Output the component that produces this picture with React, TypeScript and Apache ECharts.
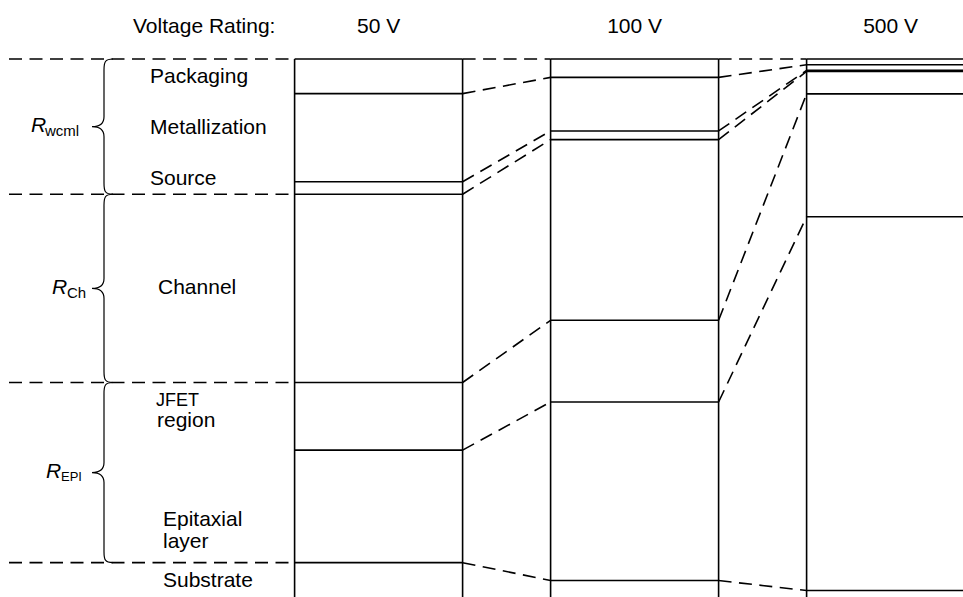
import React, { useEffect, useRef } from "react";
import * as echarts from "echarts";

// ---- data ----
const voltageRatings = ["50 V", "100 V", "500 V"];
const layerNames = ["Packaging", "Metallization", "Source", "Channel", "JFET region", "Epitaxial layer", "Substrate"];
// share of total on-resistance (%) per layer, top to bottom
const share50V = [6.4, 16.3, 2.3, 34.8, 12.5, 20.8, 7.0];
const share100V = [3.4, 9.9, 1.6, 33.4, 15.1, 33.0, 3.6];
const share500V = [1.05, 1.05, 0.2, 4.15, 22.7, 69.1, 1.75];
const groupSubscripts = ["wcml", "Ch", "EPI"];
const groupFirstLayer = [0, 3, 4];
const groupLastLayer = [2, 3, 5];

// ---- layout / style ----
const FONT = "'Liberation Sans', Arial, Helvetica, sans-serif";
const HALF = 84;
const LW = 1.6;
const DASH = [13, 7.5];
const rLabelX = [31, 52, 46];
const subX = [45, 67, 61];
const subSize = [15, 15, 13];

const allShares = [share50V, share100V, share500V];
const cumulative = (arr: number[]) => {
  const out = [0];
  arr.forEach((v) => out.push(out[out.length - 1] + v));
  return out;
};

const seg = (x1: number, y1: number, x2: number, y2: number, dashed: boolean) => ({
  type: "line",
  shape: { x1, y1, x2, y2 },
  style: { stroke: "#000", lineWidth: LW, lineDash: dashed ? DASH : null, fill: null },
});

const bracePath = (a: number, b: number) => {
  const m = (a + b) / 2;
  const xv = 104;
  const xe = 113;
  const xt = 92;
  return (
    `M ${xe} ${a} C ${xv + 1} ${a} ${xv} ${a + 3} ${xv} ${a + 11} ` +
    `L ${xv} ${m - 10} C ${xv} ${m - 4} ${xv - 4} ${m} ${xt} ${m} ` +
    `C ${xv - 4} ${m} ${xv} ${m + 4} ${xv} ${m + 10} ` +
    `L ${xv} ${b - 11} C ${xv} ${b - 3} ${xv + 1} ${b} ${xe} ${b}`
  );
};

const textEl = (text: string, x: number, y: number, size: number, italic = false) => ({
  type: "text",
  x,
  y,
  style: {
    text,
    fill: "#000",
    fontSize: size,
    fontFamily: FONT,
    fontStyle: italic ? "italic" : "normal",
    align: "left",
    verticalAlign: "middle",
  },
});

export default function App() {
  const ref = useRef<HTMLDivElement>(null);
  useEffect(() => {
    if (!ref.current) return;
    const chart = echarts.init(ref.current, undefined, { renderer: "svg" });

    const renderItem = (params: any, api: any) => {
      const i = api.value(0) as number;
      const cum = cumulative(allShares[i]);
      const cx = api.coord([i, 0])[0];
      const left = cx - HALF;
      const right = cx + HALF;
      const yOf = (col: number, v: number) => api.coord([col, v])[1];
      const top = yOf(i, 0);
      const bottom = yOf(i, 100) + 12;
      const children: any[] = [];
      children.push(seg(left, top, left, bottom, false));
      children.push(seg(right, top, right, bottom, false));
      for (let k = 0; k < cum.length - 1; k++) {
        const y = yOf(i, cum[k]);
        children.push(seg(left, y, right, y, false));
      }
      if (i < allShares.length - 1) {
        const nCum = cumulative(allShares[i + 1]);
        const nLeft = api.coord([i + 1, 0])[0] - HALF;
        for (let k = 0; k < cum.length - 1; k++) {
          children.push(seg(right, yOf(i, cum[k]), nLeft, yOf(i + 1, nCum[k]), true));
        }
      }
      if (i === 0) {
        const bounds = [cum[groupFirstLayer[0]]];
        groupLastLayer.forEach((l) => bounds.push(cum[l + 1]));
        bounds.forEach((v) => {
          const y = yOf(0, v);
          children.push(seg(9, y, left, y, true));
        });
        groupSubscripts.forEach((sub, g) => {
          const a = yOf(0, cum[groupFirstLayer[g]]);
          const b = yOf(0, cum[groupLastLayer[g] + 1]);
          const m = (a + b) / 2;
          children.push({
            type: "path",
            shape: { pathData: bracePath(a, b) },
            style: { fill: null, stroke: "#000", lineWidth: 1.2 },
          });
          children.push(textEl("R", rLabelX[g], m - 2, 21, true));
          children.push(textEl(sub, subX[g], m + 4, subSize[g]));
        });
      }
      return { type: "group", children };
    };

    const labelText = (text: string, x: number, y: number, size = 21) => ({
      type: "text",
      left: x,
      top: y - size / 2,
      style: { text, fill: "#000", fontSize: size, fontFamily: FONT },
    });

    chart.setOption({
      animation: false,
      backgroundColor: "#fff",
      grid: { left: 250.6, top: 59, width: 768, height: 541, outerBoundsMode: "none", containLabel: false },
      xAxis: {
        type: "category",
        data: voltageRatings,
        position: "top",
        axisLine: { show: false },
        axisTick: { show: false },
        splitLine: { show: false },
        axisLabel: {
          margin: 33.5,
          verticalAlign: "middle",
          fontSize: 21,
          color: "#000",
          fontFamily: FONT,
        },
      },
      yAxis: { type: "value", min: 0, max: 100, inverse: true, show: false },
      series: [
        {
          type: "custom",
          data: voltageRatings.map((_, i) => [i, 0]),
          renderItem,
          clip: false,
          silent: true,
        },
      ],
      graphic: [
        labelText("Voltage Rating:", 133, 25.7),
        labelText(layerNames[0], 150, 75.7),
        labelText(layerNames[1], 150, 126.3),
        labelText(layerNames[2], 150, 177),
        labelText(layerNames[3], 158, 286.3),
        labelText(layerNames[4].split(" ")[0], 156, 399.5, 18),
        labelText(layerNames[4].split(" ")[1], 157, 419.7),
        labelText(layerNames[5].split(" ")[0], 163, 518.7),
        labelText(layerNames[5].split(" ")[1], 163, 540.5),
        labelText(layerNames[6], 163, 579.7),
      ],
    });
    return () => chart.dispose();
  }, []);

  return (
    <div
      ref={ref}
      style={{ position: "fixed", left: 0, top: 0, width: 963, height: 597, background: "#fff" }}
    />
  );
}
